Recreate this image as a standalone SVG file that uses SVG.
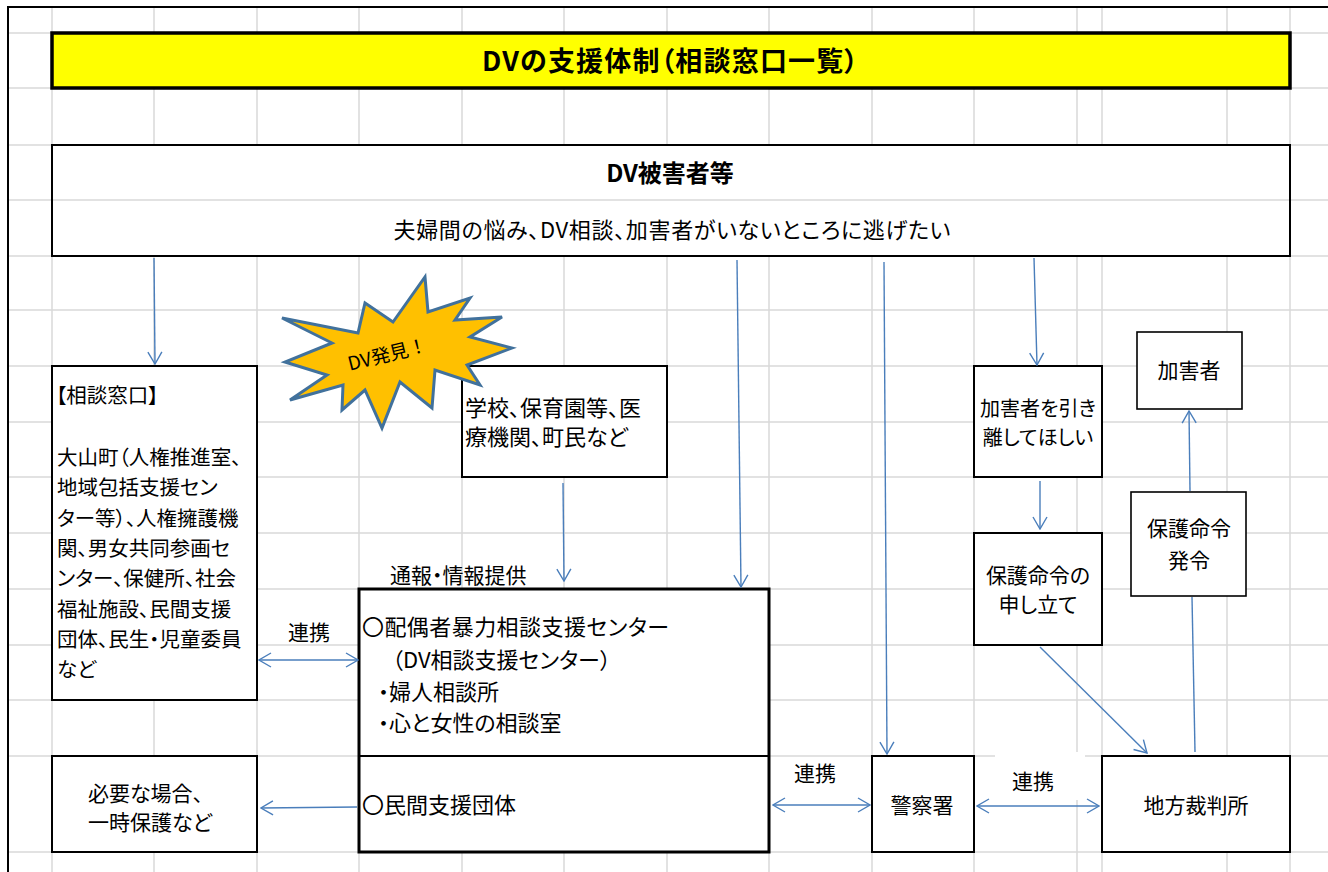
<svg xmlns="http://www.w3.org/2000/svg" width="1328" height="872" viewBox="0 0 1328 872">
<defs>
<style>
.t{font-family:"Noto Sans CJK JP","Noto Sans",sans-serif;font-size:21px;fill:#000;font-feature-settings:"palt";}
.b{font-weight:bold;}
.m{text-anchor:middle;}
.box{fill:#fff;stroke:#000;stroke-width:2;}
.grid{fill:none;stroke:#D9D9D9;stroke-width:1.5;}
.c{fill:none;stroke:#4A7EBB;stroke-width:1.4;}
</style>
<marker id="ah" viewBox="0 0 14 16" refX="13" refY="8" markerWidth="14" markerHeight="16" markerUnits="userSpaceOnUse" orient="auto-start-reverse">
<path d="M1,1 L13,8 L1,15" fill="none" stroke="#4A7EBB" stroke-width="1.4"/>
</marker>
</defs>
<rect x="0" y="0" width="1328" height="872" fill="#fff"/>
<g id="grid">
<path class="grid" d="M52,7V872M154,7V872M257,7V872M359,7V872M462,7V872M564,7V872M667,7V872M769,7V872M872,7V872M974,7V872M1077,7V872M1102,7V872M1227,7V872M1290,7V872M8,33H1328M8,88H1328M8,145H1328M8,200H1328M8,256H1328M8,310H1328M8,366H1328M8,422H1328M8,477H1328M8,533H1328M8,589H1328M8,645H1328M8,700H1328M8,756H1328M8,852H1328"/>
<path d="M8,7V872M7,7H1328" fill="none" stroke="#000" stroke-width="2"/>
</g>
<g id="title">
<rect x="52" y="33" width="1238" height="55" fill="#FFFF00" stroke="#000" stroke-width="3.5"/>
<text class="t b m" x="670" y="71" style="font-size:27px" textLength="376" lengthAdjust="spacing">DVの支援体制（相談窓口一覧）</text>
</g>
<g id="victims">
<rect class="box" x="52" y="145" width="1238" height="111"/>
<line x1="53" y1="200" x2="1289" y2="200" stroke="#D9D9D9" stroke-width="1.5"/>
<text class="t b m" x="670" y="182" style="font-size:24px">DV被害者等</text>
<text class="t m" x="672" y="238" style="font-size:22px" textLength="557" lengthAdjust="spacing">夫婦間の悩み、DV相談、加害者がいないところに逃げたい</text>
</g>
<g id="counter">
<rect class="box" x="52" y="366" width="205" height="334"/>
<text class="t" x="56" y="403" style="font-size:20.5px">【相談窓口】</text>
<text class="t" x="57" y="465" style="font-size:20.5px">大山町（人権推進室、</text>
<text class="t" x="57" y="495" style="font-size:20.5px">地域包括支援セン</text>
<text class="t" x="57" y="526" style="font-size:20.5px">ター等）、人権擁護機</text>
<text class="t" x="57" y="556" style="font-size:20.5px">関、男女共同参画セ</text>
<text class="t" x="57" y="586" style="font-size:20.5px">ンター、保健所、社会</text>
<text class="t" x="57" y="617" style="font-size:20.5px">福祉施設、民間支援</text>
<text class="t" x="57" y="647" style="font-size:20.5px">団体、民生・児童委員</text>
<text class="t" x="57" y="677" style="font-size:20.5px">など</text>
</g>
<g id="school">
<rect class="box" x="462" y="366" width="205" height="111"/>
<text class="t" x="465" y="416" style="font-size:22px">学校、保育園等、医</text>
<text class="t" x="465" y="445" style="font-size:22px">療機関、町民など</text>
</g>
<g id="discovery">
<polygon points="425,277 428,312 470,298 455,320 502,317 470,337 512,348 467,365 480,385 435,370 432,408 400,382 382,428 365,390 342,410 343,385 290,400 327,375 285,362 332,343 282,318 358,333 365,303 393,322" fill="#FFC000" stroke="#41719C" stroke-width="3" stroke-linejoin="miter"/>
<text class="t m" x="0" y="0" style="font-size:19px;font-feature-settings:normal" transform="translate(389,361) rotate(-14)">DV発見！</text>
</g>
<g id="center">
<rect x="359" y="589" width="410" height="263" fill="#fff" stroke="#000" stroke-width="3"/>
<line x1="359" y1="756" x2="769" y2="756" stroke="#000" stroke-width="2"/>
<text class="t" x="362" y="635" style="font-size:22px" textLength="307" lengthAdjust="spacing">〇配偶者暴力相談支援センター</text>
<text class="t" x="392" y="668" style="font-size:22px">（DV相談支援センター）</text>
<text class="t" x="378" y="700" style="font-size:22px">・婦人相談所</text>
<text class="t" x="378" y="731" style="font-size:22px">・心と女性の相談室</text>
<text class="t" x="362" y="813" style="font-size:22px">〇民間支援団体</text>
</g>
<g id="shelter">
<rect class="box" x="52" y="756" width="205" height="96"/>
<text class="t" x="88" y="801" style="font-size:21px">必要な場合、</text>
<text class="t" x="88" y="830" style="font-size:21px">一時保護など</text>
</g>
<g id="separate">
<rect class="box" x="974" y="366" width="128" height="111"/>
<text class="t m" x="1038" y="416" style="font-size:20px">加害者を引き</text>
<text class="t m" x="1038" y="445" style="font-size:20px">離してほしい</text>
</g>
<g id="abuser">
<rect x="1137" y="332" width="105" height="77" fill="#fff" stroke="#000" stroke-width="1.6"/>
<text class="t m" x="1189" y="378">加害者</text>
</g>
<g id="petition">
<rect class="box" x="974" y="533" width="128" height="112"/>
<text class="t m" x="1038" y="583">保護命令の</text>
<text class="t m" x="1038" y="612">申し立て</text>
</g>
<g id="order">
<rect x="1131" y="492" width="115" height="104" fill="#fff" stroke="#000" stroke-width="1.6"/>
<text class="t m" x="1189" y="536">保護命令</text>
<text class="t m" x="1189" y="568">発令</text>
</g>
<g id="police">
<rect class="box" x="872" y="756" width="102" height="96"/>
<text class="t m" x="922" y="813">警察署</text>
</g>
<g id="court">
<rect class="box" x="1102" y="756" width="188" height="96"/>
<text class="t m" x="1196" y="813">地方裁判所</text>
</g>
<g id="connectors">
<rect x="778" y="751" width="92" height="3" fill="#fff"/>
<rect x="995" y="752" width="90" height="48" fill="#fff"/>
<line class="c" x1="154" y1="258" x2="155" y2="364" marker-end="url(#ah)"/>
<line class="c" x1="737" y1="260" x2="741" y2="587" marker-end="url(#ah)"/>
<line class="c" x1="884" y1="262" x2="887" y2="754" marker-end="url(#ah)"/>
<line class="c" x1="1034" y1="258" x2="1037" y2="365" marker-end="url(#ah)"/>
<line class="c" x1="1040" y1="481" x2="1040" y2="529" marker-end="url(#ah)"/>
<line class="c" x1="563" y1="483" x2="564" y2="581" marker-end="url(#ah)"/>
<line class="c" x1="1040" y1="647" x2="1147" y2="753" marker-end="url(#ah)"/>
<line class="c" x1="1190" y1="491" x2="1189" y2="411" marker-end="url(#ah)"/>
<line class="c" x1="1195" y1="752" x2="1192" y2="597"/>
<line class="c" x1="259" y1="660" x2="358" y2="660" marker-start="url(#ah)" marker-end="url(#ah)"/>
<line class="c" x1="357" y1="807" x2="261" y2="808" marker-end="url(#ah)"/>
<line class="c" x1="773" y1="805" x2="870" y2="805" marker-start="url(#ah)" marker-end="url(#ah)"/>
<line class="c" x1="977" y1="806" x2="1099" y2="806" marker-start="url(#ah)" marker-end="url(#ah)"/>
<text class="t m" x="309" y="640">連携</text>
<text class="t m" x="815" y="781">連携</text>
<text class="t m" x="1033" y="789">連携</text>
<text class="t" x="390" y="583">通報・情報提供</text>
</g>
</svg>
